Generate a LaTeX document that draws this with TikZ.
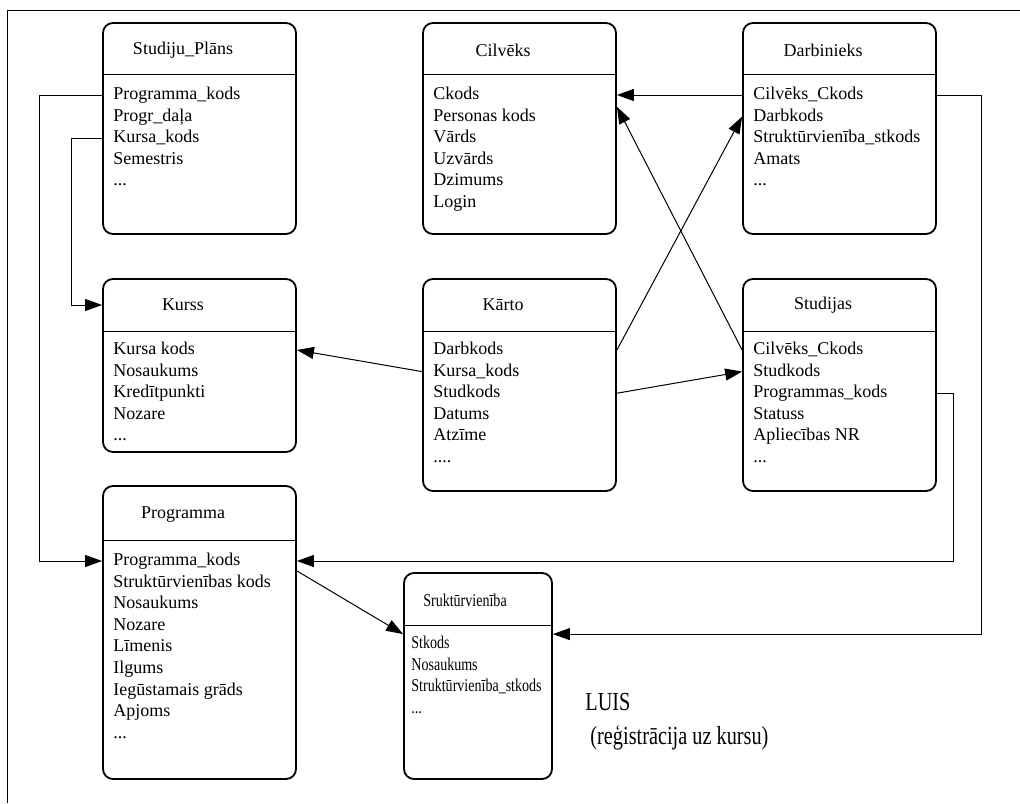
\documentclass[tikz,border=0pt]{standalone}
\usepackage{fontspec}
\setmainfont{Liberation Serif}
\newfontfamily\narrowfont[FakeStretch=0.78]{Liberation Serif}
\usetikzlibrary{arrows.meta,fit}
\newcommand{\etcdots}{...}

\begin{document}
\begin{tikzpicture}[x=0.5pt,y=-0.5pt,>={Triangle[length=8.5pt,width=6pt]}]
        \tikzstyle{entity}=[draw,line width=0.9pt,rounded corners=5pt,inner sep=0pt]
        \tikzstyle{title}=[inner sep=0pt,font=\fontsize{9}{10.8}\selectfont]
        \tikzstyle{row}=[anchor=west,inner sep=0pt,text height=0.7em,text depth=0.25em,font=\fontsize{9}{10.8}\selectfont]
        \tikzstyle{link}=[line width=0.5pt]
        \useasboundingbox (0,0) rectangle (1020,803);

        % frame
        \draw[link] (7,803) -- (7,10) -- (1020,10);

        % tables
        \node[entity,fit={(103,23) (296,234)}](plans){};
        \node[title](plans-t) at (183,50){Studiju\_Plāns};
        \draw[link] (plans.west |- 0,74) -- (plans.east |- 0,74);
        \foreach \t [count=\i] in {Programma\_kods,Progr\_daļa,Kursa\_kods,Semestris,\etcdots}
            \node[row](plans-\i) at (113,{95+21.6*(\i-1)}){\t};

        \node[entity,fit={(423,23) (616,234)}](cilv){};
        \node[title](cilv-t) at (503,50){Cilvēks};
        \draw[link] (cilv.west |- 0,74) -- (cilv.east |- 0,74);
        \foreach \t [count=\i] in {Ckods,Personas kods,Vārds,Uzvārds,Dzimums,Login}
            \node[row](cilv-\i) at (433,{95+21.6*(\i-1)}){\t};

        \node[entity,fit={(743,23) (936,234)}](darb){};
        \node[title](darb-t) at (823,50){Darbinieks};
        \draw[link] (darb.west |- 0,74) -- (darb.east |- 0,74);
        \foreach \t [count=\i] in {Cilvēks\_Ckods,Darbkods,Struktūrvienība\_stkods,Amats,\etcdots}
            \node[row](darb-\i) at (753,{95+21.6*(\i-1)}){\t};

        \node[entity,fit={(103,279) (296,452)}](kurss){};
        \node[title](kurss-t) at (183,305){Kurss};
        \draw[link] (kurss.west |- 0,331) -- (kurss.east |- 0,331);
        \foreach \t [count=\i] in {Kursa kods,Nosaukums,Kredītpunkti,Nozare,\etcdots}
            \node[row](kurss-\i) at (113,{350+21.6*(\i-1)}){\t};

        \node[entity,fit={(423,279) (616,491)}](karto){};
        \node[title](karto-t) at (503,305){Kārto};
        \draw[link] (karto.west |- 0,331) -- (karto.east |- 0,331);
        \foreach \t [count=\i] in {Darbkods,Kursa\_kods,Studkods,Datums,Atzīme,\etcdots.}
            \node[row](karto-\i) at (433,{350+21.6*(\i-1)}){\t};

        \node[entity,fit={(743,279) (936,491)}](stud){};
        \node[title](stud-t) at (823,305){Studijas};
        \draw[link] (stud.west |- 0,331) -- (stud.east |- 0,331);
        \foreach \t [count=\i] in {Cilvēks\_Ckods,Studkods,Programmas\_kods,Statuss,Apliecības NR,\etcdots}
            \node[row](stud-\i) at (753,{350+21.6*(\i-1)}){\t};

        \node[entity,fit={(103,486) (296,779)}](prog){};
        \node[title](prog-t) at (183,515){Programma};
        \draw[link] (prog.west |- 0,540) -- (prog.east |- 0,540);
        \foreach \t [count=\i] in {Programma\_kods,Struktūrvienības kods,Nosaukums,Nozare,Līmenis,Ilgums,Iegūstamais grāds,Apjoms,\etcdots}
            \node[row](prog-\i) at (113,{561+21.6*(\i-1)}){\t};

        \node[entity,fit={(404,573) (552,779)}](strukt){};
        \node[title,font=\narrowfont\fontsize{9}{10.8}\selectfont](strukt-t) at (465,600){Sruktūrvienība};
        \draw[link] (strukt.west |- 0,625) -- (strukt.east |- 0,625);
        \foreach \t [count=\i] in {Stkods,Nosaukums,Struktūrvienība\_stkods,\etcdots}
            \node[row,font=\narrowfont\fontsize{9}{10.8}\selectfont](strukt-\i) at (411,{644+21.6*(\i-1)}){\t};

        \node[anchor=west,align=left,inner sep=0pt,font=\narrowfont\fontsize{13}{17}\selectfont](luis) at (585,722){LUIS\\\ (reģistrācija uz kursu)};

        % keys
        \draw[link,->] (plans.west |- plans-1) -- ++(-63,0) |- (prog.west |- prog-1);
        \draw[link,->] (plans.west |- plans-3) -- ++(-31,0) |- (kurss.west |- kurss-t);
        \draw[link,->] (darb.west |- darb-1) -- (cilv.east |- darb-1);
        \draw[link,->] (darb.east |- darb-1) -- ++(45,0) |- (strukt.east |- strukt-1.north);
        \draw[link,->] (stud.east |- stud-3) -- ++(17,0) |- (prog.east |- prog-1);
        \draw[link,->] (stud.west |- stud-1) -- (cilv.east |- cilv-2.north);
        \draw[link,->] (karto.west |- karto-2) -- (kurss.east |- kurss-1);
        \draw[link,->] (karto.east |- karto-1) -- (darb.west |- darb-2);
        \draw[link,->] (karto.east |- karto-3) -- (stud.west |- stud-2);
        \draw[link,->] (prog.east |- prog-1.south) -- (strukt.west |- strukt-1.north);

    \end{tikzpicture}
\end{document}
